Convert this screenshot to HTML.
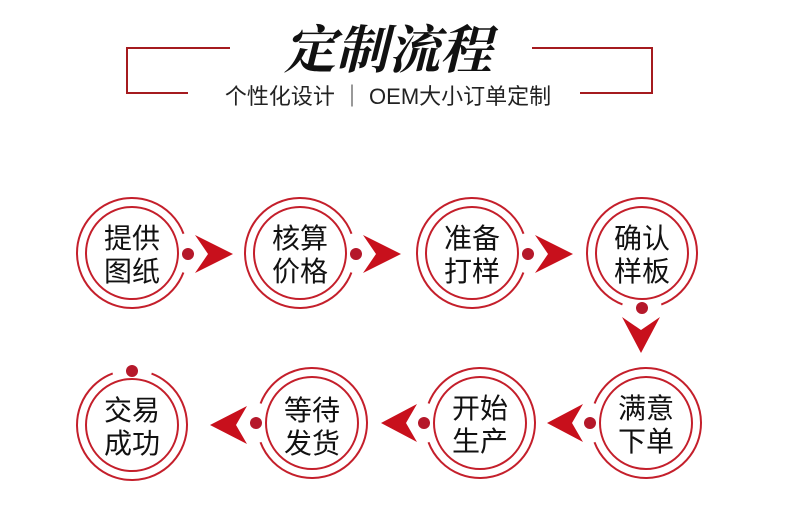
<!DOCTYPE html>
<html><head><meta charset="utf-8"><style>
html,body{margin:0;padding:0;background:#fff;}
body{width:798px;height:516px;overflow:hidden;}
text{font-family:"Liberation Sans","Noto Sans CJK SC",sans-serif;}
</style></head><body>
<svg width="798" height="516" viewBox="0 0 798 516" xmlns="http://www.w3.org/2000/svg">
<g stroke="#a51b1f" stroke-width="2" fill="none">
<polyline points="230,48 127,48 127,93 188,93"/>
<polyline points="532,48 652,48 652,93 580,93"/>
</g>
<text x="388" y="68" text-anchor="middle" font-size="52" font-weight="bold" style="font-family:'Noto Serif CJK SC','Liberation Serif',serif" fill="#111" font-style="italic">定制流程</text>
<text x="388" y="104" text-anchor="middle" font-size="22" fill="#222">个性化设计 ｜ OEM大小订单定制</text>
<g stroke="#c41f2b" stroke-width="2" fill="none">
<circle cx="132" cy="253" r="55" stroke-dasharray="305.6 40" transform="rotate(-339.2 132 253)"/>
<circle cx="132" cy="253" r="46"/>
<circle cx="300" cy="253" r="55" stroke-dasharray="305.6 40" transform="rotate(-339.2 300 253)"/>
<circle cx="300" cy="253" r="46"/>
<circle cx="472" cy="253" r="55" stroke-dasharray="305.6 40" transform="rotate(-339.2 472 253)"/>
<circle cx="472" cy="253" r="46"/>
<circle cx="642" cy="253" r="55" stroke-dasharray="305.6 40" transform="rotate(-249.2 642 253)"/>
<circle cx="642" cy="253" r="46"/>
<circle cx="646" cy="423" r="55" stroke-dasharray="305.6 40" transform="rotate(-159.2 646 423)"/>
<circle cx="646" cy="423" r="46"/>
<circle cx="480" cy="423" r="55" stroke-dasharray="305.6 40" transform="rotate(-159.2 480 423)"/>
<circle cx="480" cy="423" r="46"/>
<circle cx="312" cy="423" r="55" stroke-dasharray="305.6 40" transform="rotate(-159.2 312 423)"/>
<circle cx="312" cy="423" r="46"/>
<circle cx="132" cy="425" r="55" stroke-dasharray="305.6 40" transform="rotate(-69.2 132 425)"/>
<circle cx="132" cy="425" r="46"/>
</g>
<g fill="#b5182a">
<circle cx="188" cy="254" r="6"/>
<circle cx="356" cy="254" r="6"/>
<circle cx="528" cy="254" r="6"/>
<circle cx="642" cy="308" r="6"/>
<circle cx="590" cy="423" r="6"/>
<circle cx="424" cy="423" r="6"/>
<circle cx="256" cy="423" r="6"/>
<circle cx="132" cy="371" r="6"/>
</g>
<g fill="#c8101c">
<polygon points="195,235 233,254 195,273 208,254"/>
<polygon points="363,235 401,254 363,273 376,254"/>
<polygon points="535,235 573,254 535,273 548,254"/>
<polygon points="622,317 641,330 660,317 641,353"/>
<polygon points="547,423 583,404 572,423 583,442"/>
<polygon points="381,423 417,404 406,423 417,442"/>
<polygon points="210,425 247,406 236,425 247,444"/>
</g>
<g font-size="28" fill="#111" text-anchor="middle">
<text x="132" y="248">提供</text><text x="132" y="281">图纸</text>
<text x="300" y="248">核算</text><text x="300" y="281">价格</text>
<text x="472" y="248">准备</text><text x="472" y="281">打样</text>
<text x="642" y="248">确认</text><text x="642" y="281">样板</text>
<text x="646" y="418">满意</text><text x="646" y="451">下单</text>
<text x="480" y="418">开始</text><text x="480" y="451">生产</text>
<text x="312" y="420">等待</text><text x="312" y="453">发货</text>
<text x="132" y="420">交易</text><text x="132" y="453">成功</text>
</g>
</svg>
</body></html>
